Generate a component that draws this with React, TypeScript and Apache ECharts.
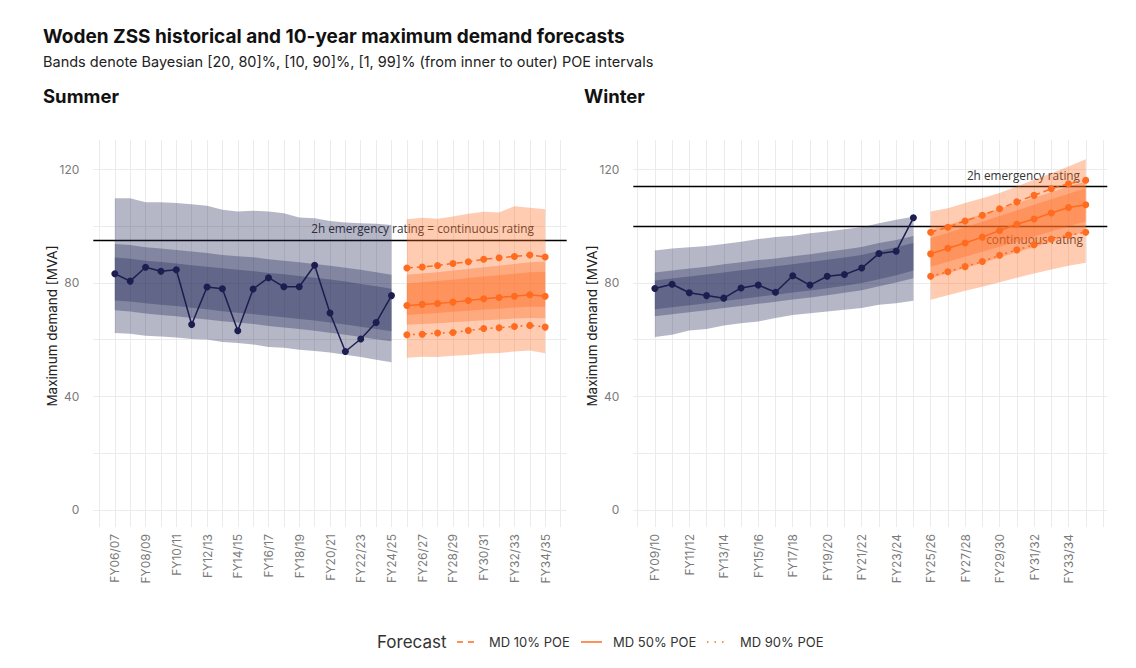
import React, { useEffect, useRef } from "react";
import * as echarts from "echarts";

// ---------- categories ----------
const summerCategories = [
  "FY06/07", "FY07/08", "FY08/09", "FY09/10", "FY10/11", "FY11/12", "FY12/13", "FY13/14",
  "FY14/15", "FY15/16", "FY16/17", "FY17/18", "FY18/19", "FY19/20", "FY20/21", "FY21/22",
  "FY22/23", "FY23/24", "FY24/25", "FY25/26", "FY26/27", "FY27/28", "FY28/29", "FY29/30",
  "FY30/31", "FY31/32", "FY32/33", "FY33/34", "FY34/35",
];
const winterCategories = [
  "FY09/10", "FY10/11", "FY11/12", "FY12/13", "FY13/14", "FY14/15", "FY15/16", "FY16/17",
  "FY17/18", "FY18/19", "FY19/20", "FY20/21", "FY21/22", "FY22/23", "FY23/24", "FY24/25",
  "FY25/26", "FY26/27", "FY27/28", "FY28/29", "FY29/30", "FY30/31", "FY31/32", "FY32/33",
  "FY33/34", "FY34/35",
];

// ---------- summer historical ----------
const summerHistorical = [83.2, 80.6, 85.5, 84.1, 84.6, 65.3, 78.5, 77.9, 63.1, 77.8, 81.8, 78.6, 78.6, 86.2, 69.4, 55.8, 60.2, 66.0, 75.5];
const summerHistP99 = [109.8, 109.8, 108.4, 108.4, 108.1, 107.7, 107.1, 105.7, 105.1, 105.4, 105.1, 104.5, 103.0, 102.7, 101.8, 101.2, 101.0, 100.8, 100.4];
const summerHistP01 = [62.3, 62.1, 61.4, 61.1, 60.7, 60.2, 60.0, 59.2, 58.8, 58.3, 57.4, 57.1, 56.4, 56.0, 55.5, 54.7, 53.9, 52.9, 52.0];
const summerHistP90 = [93.7, 93.3, 92.5, 92.1, 91.6, 91.0, 90.5, 89.8, 89.4, 89.0, 88.3, 87.8, 87.2, 86.6, 86.0, 85.3, 84.6, 83.7, 82.8];
const summerHistP10 = [70.3, 69.9, 69.2, 68.7, 68.2, 67.6, 67.1, 66.5, 66.0, 65.5, 64.8, 64.3, 63.7, 63.1, 62.4, 61.7, 60.9, 60.1, 59.4];
const summerHistP80 = [88.9, 88.5, 87.8, 87.3, 86.8, 86.2, 85.7, 85.1, 84.6, 84.1, 83.5, 83.0, 82.4, 81.8, 81.2, 80.5, 79.6, 78.8, 77.9];
const summerHistP20 = [73.8, 73.4, 72.8, 72.3, 71.8, 71.2, 70.7, 70.0, 69.5, 69.0, 68.4, 67.9, 67.3, 66.7, 66.0, 65.3, 64.5, 63.7, 62.9];

// ---------- summer forecast ----------
const summerMD10 = [85.2, 85.6, 86.1, 86.8, 87.4, 88.3, 88.8, 89.3, 89.8, 89.1];
const summerMD50 = [72.0, 72.4, 72.7, 73.2, 73.8, 74.4, 74.8, 75.3, 75.8, 75.3];
const summerMD90 = [61.7, 61.9, 62.3, 62.5, 63.2, 63.9, 64.2, 64.6, 65.0, 64.4];
const summerFcP99 = [102.4, 102.9, 102.6, 103.4, 104.3, 105.0, 104.8, 107.0, 106.4, 105.9];
const summerFcP01 = [53.6, 54.0, 53.9, 54.3, 54.6, 55.1, 55.3, 55.8, 56.2, 55.2];
const summerFcP90 = [82.8, 83.3, 83.7, 84.3, 84.9, 85.5, 86.0, 86.6, 87.2, 87.5];
const summerFcP10 = [65.2, 65.5, 65.8, 66.1, 66.5, 66.8, 67.1, 67.4, 67.6, 67.5];
const summerFcP80 = [79.8, 80.2, 80.6, 81.1, 81.7, 82.2, 82.7, 83.2, 83.7, 83.9];
const summerFcP20 = [68.7, 69.0, 69.4, 69.8, 70.2, 70.6, 70.9, 71.3, 71.6, 71.6];

// ---------- winter historical ----------
const winterHistorical = [78.0, 79.5, 76.5, 75.5, 74.6, 78.2, 79.2, 76.7, 82.5, 79.2, 82.3, 82.9, 85.2, 90.3, 91.1, 102.9];
const winterHistP99 = [91.4, 92.1, 92.5, 93.0, 93.7, 94.5, 95.4, 96.1, 96.6, 97.5, 98.1, 98.9, 99.6, 101.0, 102.2, 103.3];
const winterHistP01 = [60.9, 61.7, 63.2, 63.7, 65.0, 65.8, 66.4, 67.6, 68.7, 69.3, 69.9, 70.5, 71.1, 72.3, 72.8, 73.7];
const winterHistP90 = [83.6, 84.3, 85.0, 85.7, 86.5, 87.2, 88.0, 88.6, 89.4, 90.1, 90.9, 91.7, 92.6, 94.0, 95.1, 96.5];
const winterHistP10 = [68.2, 68.9, 69.6, 70.3, 71.1, 71.8, 72.6, 73.3, 74.1, 74.8, 75.6, 76.5, 77.4, 78.8, 80.1, 81.6];
const winterHistP80 = [80.8, 81.5, 82.2, 82.9, 83.6, 84.4, 85.1, 85.8, 86.5, 87.3, 88.1, 88.9, 89.8, 91.2, 92.5, 94.0];
const winterHistP20 = [70.7, 71.4, 72.1, 72.8, 73.6, 74.3, 75.1, 75.8, 76.6, 77.3, 78.1, 79.0, 79.9, 81.3, 82.7, 84.3];

// ---------- winter forecast ----------
const winterMD10 = [97.8, 99.6, 101.8, 103.8, 106.1, 108.5, 110.8, 113.1, 114.9, 116.1];
const winterMD50 = [90.2, 92.2, 94.0, 96.1, 98.4, 100.6, 102.5, 104.6, 106.5, 107.5];
const winterMD90 = [82.3, 83.9, 85.7, 87.5, 89.7, 91.6, 93.4, 95.4, 96.8, 97.8];
const winterFcP99 = [105.1, 106.3, 108.1, 109.8, 111.6, 113.9, 116.3, 118.6, 121.0, 123.5];
const winterFcP01 = [74.0, 75.6, 77.2, 78.6, 80.2, 81.8, 83.3, 84.7, 86.0, 87.1];
const winterFcP90 = [98.6, 100.4, 102.3, 104.2, 106.1, 108.1, 110.0, 111.9, 113.9, 115.7];
const winterFcP10 = [81.6, 83.4, 85.2, 87.0, 88.9, 90.8, 92.6, 94.5, 96.3, 98.1];
const winterFcP80 = [95.7, 97.6, 99.6, 101.5, 103.5, 105.5, 107.5, 109.4, 111.4, 113.3];
const winterFcP20 = [85.7, 87.4, 89.2, 90.9, 92.7, 94.5, 96.3, 98.1, 99.9, 101.6];

// ---------- ratings & ticks ----------
const summerRatings = [95];
const winterRatings = [114, 100];
const yTickLabels = [0, 40, 80, 120];
const yGridValues = [0, 20, 40, 60, 80, 100, 120];

// ---------- styling ----------
const NAVY = "#1b1e4f";
const ORANGE = "#ff6b1f";
const NAVY_BAND = "rgba(31,35,86,0.33)";
const ORANGE_BAND = "rgba(255,107,31,0.35)";
const GRID = "#ebebeb";
const FONT = "Inter, 'Noto Sans', sans-serif";
const NOTE_FONT = "11.8px 'Open Sans', sans-serif";

function band(g: number, xStart: number, lo: number[], hi: number[], color: string) {
  return {
    type: "custom",
    xAxisIndex: g,
    yAxisIndex: g,
    z: 2,
    silent: true,
    data: lo.map((l, i) => [xStart + i, l, hi[i]]),
    encode: { x: 0, y: [1, 2] },
    renderItem: (params: any, api: any) => {
      if (params.dataIndex !== 0) return null;
      const pts: number[][] = [];
      for (let i = 0; i < hi.length; i++) pts.push(api.coord([xStart + i, hi[i]]));
      for (let i = lo.length - 1; i >= 0; i--) pts.push(api.coord([xStart + i, lo[i]]));
      return { type: "polygon", shape: { points: pts }, style: { fill: color } };
    },
  };
}

function line(g: number, xStart: number, vals: number[], color: string, type: any) {
  return {
    type: "line",
    xAxisIndex: g,
    yAxisIndex: g,
    z: 3,
    silent: true,
    data: vals.map((v, i) => [xStart + i, v]),
    symbol: "circle",
    symbolSize: 7,
    itemStyle: { color },
    lineStyle: { color, width: 1.5, type },
  };
}

function gridLines(g: number, nCats: number) {
  const xs: number[] = [];
  for (let i = -1; i <= nCats; i++) xs.push(i);
  return {
    type: "line",
    xAxisIndex: g,
    yAxisIndex: g,
    data: [],
    silent: true,
    markLine: {
      z: 0,
      silent: true,
      animation: false,
      symbol: ["none", "none"],
      label: { show: false },
      lineStyle: { color: GRID, width: 1, type: "solid" },
      data: [...yGridValues.map((v) => ({ yAxis: v })), ...xs.map((v) => ({ xAxis: v }))],
    },
  };
}

function ratingLines(g: number, vals: number[]) {
  return {
    type: "line",
    xAxisIndex: g,
    yAxisIndex: g,
    data: [],
    silent: true,
    markLine: {
      z: 1,
      silent: true,
      animation: false,
      symbol: ["none", "none"],
      label: { show: false },
      lineStyle: { color: "#000", width: 1.3, type: "solid" },
      data: vals.map((v) => ({ yAxis: v })),
    },
  };
}

function xAxis(g: number, cats: string[]) {
  const n = cats.length - 1;
  return {
    gridIndex: g,
    type: "value",
    min: -0.05 * n,
    max: n + 0.05 * n,
    axisLine: { show: false },
    axisTick: { show: false },
    splitLine: { show: false },
    axisLabel: {
      customValues: cats.map((_, i) => i).filter((i) => i % 2 === 0),
      formatter: (v: number) => cats[Math.round(v)] ?? "",
      rotate: 90,
      color: "#7a7a7a",
      fontSize: 12,
      fontFamily: FONT,
      margin: 7,
    },
  };
}

function yAxis(g: number) {
  return {
    gridIndex: g,
    type: "value",
    min: -6,
    max: 130.3,
    axisLine: { show: false },
    axisTick: { show: false },
    splitLine: { show: false },
    axisLabel: {
      customValues: yTickLabels,
      color: "#7a7a7a",
      fontSize: 12,
      fontFamily: FONT,
      margin: 14,
    },
  };
}

function text(t: string, x: number, y: number, font: string, fill: string, align = "left", rotation = 0) {
  return {
    type: "text",
    z: 1,
    silent: true,
    x,
    y,
    rotation,
    style: {
      text: t,
      x: 0,
      y: 0,
      font,
      fill,
      textAlign: align,
      align,
      textVerticalAlign: "middle",
      verticalAlign: "middle",
    },
  };
}

const sN = summerHistorical.length;
const wN = winterHistorical.length;

const option: any = {
  animation: false,
  backgroundColor: "#ffffff",
  grid: [
    { left: 93.3, right: 569.3, top: 140, bottom: 141 },
    { left: 633.3, right: 28.7, top: 140, bottom: 141 },
  ],
  xAxis: [xAxis(0, summerCategories), xAxis(1, winterCategories)],
  yAxis: [yAxis(0), yAxis(1)],
  series: [
    gridLines(0, summerCategories.length),
    gridLines(1, winterCategories.length),
    ratingLines(0, summerRatings),
    ratingLines(1, winterRatings),
    // summer bands
    band(0, 0, summerHistP01, summerHistP99, NAVY_BAND),
    band(0, 0, summerHistP10, summerHistP90, NAVY_BAND),
    band(0, 0, summerHistP20, summerHistP80, NAVY_BAND),
    band(0, sN, summerFcP01, summerFcP99, ORANGE_BAND),
    band(0, sN, summerFcP10, summerFcP90, ORANGE_BAND),
    band(0, sN, summerFcP20, summerFcP80, ORANGE_BAND),
    // winter bands
    band(1, 0, winterHistP01, winterHistP99, NAVY_BAND),
    band(1, 0, winterHistP10, winterHistP90, NAVY_BAND),
    band(1, 0, winterHistP20, winterHistP80, NAVY_BAND),
    band(1, wN, winterFcP01, winterFcP99, ORANGE_BAND),
    band(1, wN, winterFcP10, winterFcP90, ORANGE_BAND),
    band(1, wN, winterFcP20, winterFcP80, ORANGE_BAND),
    // lines
    line(0, 0, summerHistorical, NAVY, "solid"),
    line(0, sN, summerMD10, ORANGE, [6, 4]),
    line(0, sN, summerMD50, ORANGE, "solid"),
    line(0, sN, summerMD90, ORANGE, [2, 4]),
    line(1, 0, winterHistorical, NAVY, "solid"),
    line(1, wN, winterMD10, ORANGE, [6, 4]),
    line(1, wN, winterMD50, ORANGE, "solid"),
    line(1, wN, winterMD90, ORANGE, [2, 4]),
  ],
  graphic: [
    text("Woden ZSS historical and 10-year maximum demand forecasts", 43, 36, `bold 19px ${FONT}`, "#111"),
    text("Bands denote Bayesian [20, 80]%, [10, 90]%, [1, 99]% (from inner to outer) POE intervals", 43, 61, `14.5px ${FONT}`, "#222"),
    text("Summer", 43, 96, `bold 18.5px ${FONT}`, "#111"),
    text("Winter", 584, 96, `bold 18.5px ${FONT}`, "#111"),
    text("Maximum demand [MVA]", 51.5, 326, `13.5px ${FONT}`, "#222", "center", Math.PI / 2),
    text("Maximum demand [MVA]", 591.5, 326, `13.5px ${FONT}`, "#222", "center", Math.PI / 2),
    text("2h emergency rating = continuous rating", 534, 228, NOTE_FONT, "#333", "right"),
    text("2h emergency rating", 1080, 175, NOTE_FONT, "#333", "right"),
    text("continuous rating", 1083, 239, NOTE_FONT, "#333", "right"),
    // legend
    text("Forecast", 377, 642, `17px ${FONT}`, "#333"),
    { type: "line", silent: true, shape: { x1: 457, y1: 642, x2: 477, y2: 642 }, style: { stroke: ORANGE, lineWidth: 1.5, lineDash: [6, 5] } },
    text("MD 10% POE", 489, 642, `13px ${FONT}`, "#333"),
    { type: "line", silent: true, shape: { x1: 581, y1: 642, x2: 602, y2: 642 }, style: { stroke: ORANGE, lineWidth: 1.5 } },
    text("MD 50% POE", 613, 642, `13px ${FONT}`, "#333"),
    { type: "line", silent: true, shape: { x1: 707, y1: 642, x2: 729, y2: 642 }, style: { stroke: ORANGE, lineWidth: 1.5, lineDash: [1.5, 6] } },
    text("MD 90% POE", 740, 642, `13px ${FONT}`, "#333"),
  ],
};

export default function App() {
  const ref = useRef<HTMLDivElement>(null);
  useEffect(() => {
    if (!ref.current) return;
    const chart = echarts.init(ref.current, null, { renderer: "svg" });
    chart.setOption(option);
    return () => chart.dispose();
  }, []);
  return (
    <div
      ref={ref}
      style={{ position: "absolute", left: 0, top: 0, width: 1136, height: 668, background: "#fff" }}
    />
  );
}
